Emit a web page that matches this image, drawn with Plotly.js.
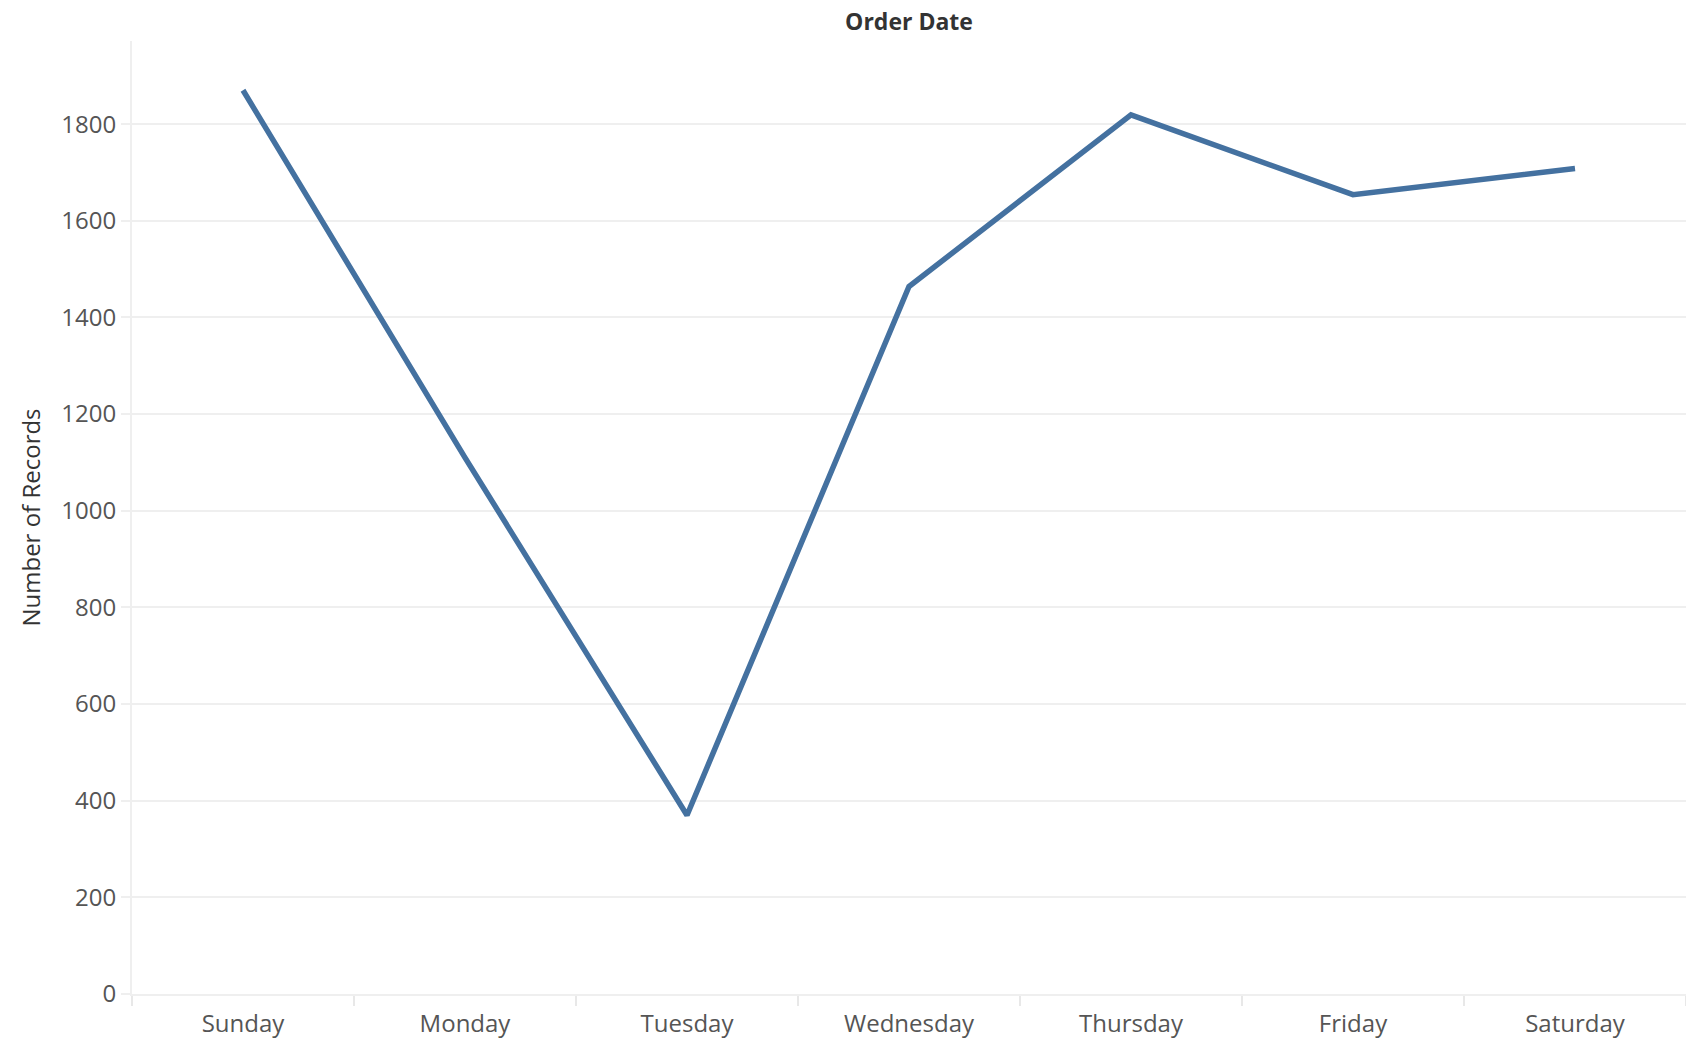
<!DOCTYPE html>
<html>
<head>
<meta charset="utf-8">
<script src="https://cdn.plot.ly/plotly-3.0.1.min.js"></script>
<style>
  html, body { margin: 0; padding: 0; background: #ffffff; }
  #chart { width: 1686px; height: 1040px; }
</style>
</head>
<body>
<div id="chart"></div>
<script>
const days = ["Sunday", "Monday", "Tuesday", "Wednesday", "Thursday", "Friday", "Saturday"];
const records = [1870, 1110, 370, 1464, 1819, 1654, 1708];
const yTicks = [0, 200, 400, 600, 800, 1000, 1200, 1400, 1600, 1800];

const FONT = "'Open Sans', Lato, sans-serif";

const trace = {
  type: "scatter",
  mode: "lines",
  x: days,
  y: records,
  line: { color: "#4471a0", width: 5.5 },
  hoverinfo: "x+y"
};

const layout = {
  width: 1686,
  height: 1040,
  paper_bgcolor: "#ffffff",
  plot_bgcolor: "#ffffff",
  margin: { l: 132, r: 0, t: 41, b: 46, pad: 0 },
  showlegend: false,
  font: { family: FONT, color: "#555555" },
  title: {
    text: "<b>Order Date</b>",
    font: { family: FONT, size: 23, color: "#333333" },
    x: 0.5, xref: "paper", xanchor: "center",
    y: 1 - 21.5 / 1040, yref: "container", yanchor: "middle"
  },
  xaxis: {
    type: "category",
    categoryorder: "array",
    categoryarray: days,
    range: [-0.5, 6.5],
    tickson: "boundaries",
    ticks: "outside",
    ticklen: 10,
    tickwidth: 2,
    tickcolor: "#e8e8e8",
    ticklabelstandoff: 7,
    showgrid: false,
    showline: true,
    linecolor: "#efefef",
    linewidth: 2,
    zeroline: false,
    tickfont: { family: FONT, size: 24, color: "#555555" },
    fixedrange: true
  },
  yaxis: {
    range: [0, 1972],
    tickvals: yTicks,
    ticktext: yTicks.map(String),
    ticks: "outside",
    ticklen: 9,
    tickwidth: 2,
    tickcolor: "#efefef",
    showgrid: true,
    gridcolor: "#efefef",
    gridwidth: 2,
    showline: true,
    linecolor: "#efefef",
    linewidth: 2,
    zeroline: false,
    tickfont: { family: FONT, size: 24, color: "#555555" },
    title: {
      text: "Number of Records",
      font: { family: FONT, size: 24, color: "#333333" },
      standoff: 14
    },
    fixedrange: true
  }
};

Plotly.newPlot("chart", [trace], layout, { displayModeBar: false, staticPlot: true });
</script>
</body>
</html>
